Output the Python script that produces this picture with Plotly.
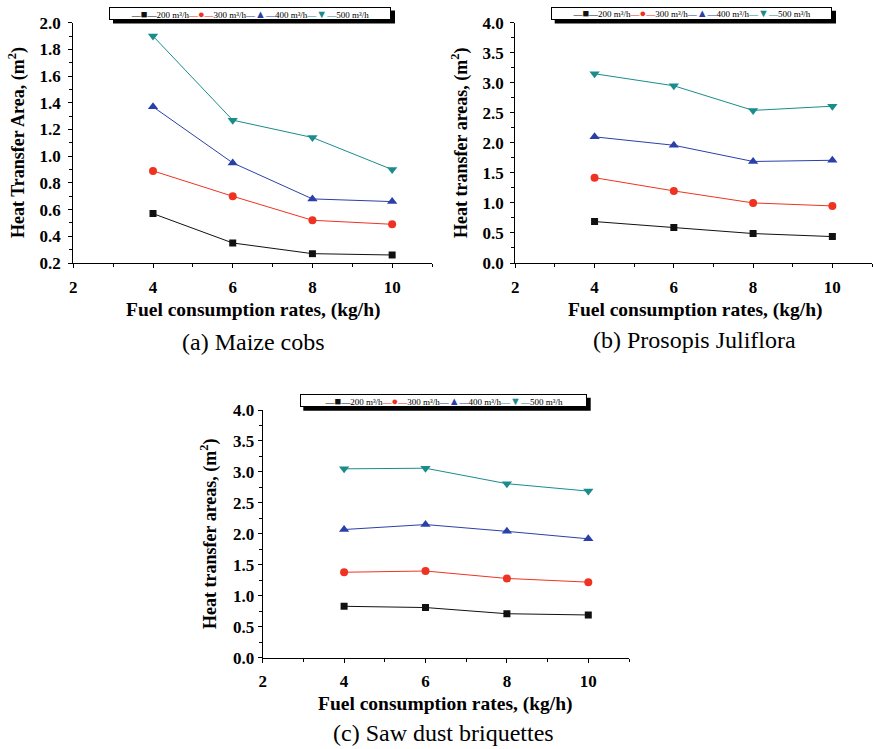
import plotly.graph_objects as go

W, H = 873, 749

fuel_rates = [4, 6, 8, 10]
series_names = ["200 m³/h", "300 m³/h", "400 m³/h", "500 m³/h"]

maize_200 = [0.57, 0.35, 0.27, 0.26]
maize_300 = [0.89, 0.70, 0.52, 0.49]
maize_400 = [1.37, 0.95, 0.68, 0.66]
maize_500 = [1.90, 1.27, 1.14, 0.90]

prosopis_200 = [0.69, 0.59, 0.49, 0.44]
prosopis_300 = [1.42, 1.20, 1.00, 0.95]
prosopis_400 = [2.10, 1.96, 1.69, 1.71]
prosopis_500 = [3.15, 2.95, 2.54, 2.61]

sawdust_200 = [0.83, 0.81, 0.71, 0.69]
sawdust_300 = [1.38, 1.40, 1.28, 1.22]
sawdust_400 = [2.07, 2.15, 2.04, 1.92]
sawdust_500 = [3.05, 3.06, 2.81, 2.69]

panel_titles = ["(a) Maize cobs", "(b) Prosopis Juliflora", "(c) Saw dust briquettes"]
y_titles = ["Heat Transfer Area, (m<sup>2</sup>)",
            "Heat transfer areas, (m<sup>2</sup>)",
            "Heat transfer areas, (m<sup>2</sup>)"]
x_title = "Fuel consumption rates, (kg/h)"

colors = ["#111111", "#ee3322", "#2b3fa8", "#1a8c8c"]
symbols = ["square", "circle", "triangle-up", "triangle-down"]
legend_glyphs = ["■", "●", "▲", "▼"]
msizes = [7, 8, 9, 9]

panels = [
    [maize_200, maize_300, maize_400, maize_500],
    [prosopis_200, prosopis_300, prosopis_400, prosopis_500],
    [sawdust_200, sawdust_300, sawdust_400, sawdust_500],
]

def px2x(p):
    return p / W

def px2y(p):
    return 1 - p / H

# pixel geometry of each plot area: (left, right, top, bottom)
geom = [(73.3, 432.0, 22.7, 263.0),
        (515.3, 872.0, 22.7, 263.0),
        (262.7, 629.0, 410.0, 657.7)]
yranges = [[0.2, 2.0], [0.0, 4.0], [0.0, 4.0]]
ydt = [0.2, 0.5, 0.5]
ystand = [4, 3, 0]

FONT = "Liberation Serif, Times New Roman, serif"
fig = go.Figure()

for i, data in enumerate(panels):
    ax = "" if i == 0 else str(i + 1)
    for j, vals in enumerate(data):
        fig.add_trace(go.Scatter(
            x=fuel_rates, y=vals, name=series_names[j], mode="lines+markers",
            line=dict(color=colors[j], width=1),
            marker=dict(symbol=symbols[j], size=msizes[j], color=colors[j]),
            xaxis="x" + ax, yaxis="y" + ax, showlegend=False,
        ))
    l, r, t, b = geom[i]
    axis_common = dict(showline=True, linecolor="black", linewidth=1.3,
                       ticks="outside", ticklen=4, tickwidth=1.2, tickcolor="black",
                       showgrid=False, zeroline=False,
                       tickfont=dict(family=FONT, size=17, color="black", weight="bold"))
    fig.update_layout(**{
        "xaxis" + ax: dict(domain=[px2x(l), px2x(r)], range=[2, 11],
                           anchor="y" + ax, tick0=2, dtick=2,
                           minor=dict(dtick=1, ticklen=3, tickcolor="black", ticks="outside"),
                           ticklabelstandoff=4, **axis_common),
        "yaxis" + ax: dict(domain=[px2y(b), px2y(t)], range=yranges[i],
                           anchor="x" + ax, tick0=0, dtick=ydt[i], tickformat=".1f",
                           minor=dict(dtick=ydt[i] / 2, ticklen=3, tickcolor="black", ticks="outside"),
                           ticklabelstandoff=ystand[i], **axis_common),
    })

# text legends (boxed, with drop shadow)
legend_text = "".join(
    f"<span style='color:{colors[j]}'>—<span style='font-size:11px'>{legend_glyphs[j]}</span>—</span>{series_names[j]}"
    for j in range(4))
# box geometry: (left, top, right, bottom) in px
leg_boxes = [(109, 7, 391, 20), (550.7, 7.3, 832, 20), (299.3, 394.3, 586.7, 407.3)]

annotations = []
shapes = []
for (bl, bt, br, bb) in leg_boxes:
    shapes.append(dict(type="rect", xref="paper", yref="paper",
                       x0=px2x(bl + 4), x1=px2x(br + 4),
                       y0=px2y(bb + 3.5), y1=px2y(bt + 3.5),
                       fillcolor="black", line=dict(width=0), layer="above"))
    annotations.append(dict(text=legend_text, x=px2x((bl + br) / 2), y=px2y((bt + bb) / 2),
                            xref="paper", yref="paper", showarrow=False,
                            xanchor="center", yanchor="middle", align="center",
                            width=br - bl - 2, height=bb - bt - 2, borderpad=0,
                            bordercolor="black", borderwidth=1, bgcolor="white",
                            font=dict(family=FONT, size=9, color="black")))

ytitle_pos = [(17, 143), (460, 143), (209, 534)]
xtitle_pos = [(253, 310), (695, 310), (446, 704)]
cap_pos = [(253, 342), (694, 340), (443, 733)]
for i in range(3):
    annotations.append(dict(text=y_titles[i], x=px2x(ytitle_pos[i][0]), y=px2y(ytitle_pos[i][1]),
                            xref="paper", yref="paper", showarrow=False, textangle=-90,
                            xanchor="center", yanchor="middle",
                            font=dict(family=FONT, size=18, color="black", weight="bold")))
    annotations.append(dict(text=x_title, x=px2x(xtitle_pos[i][0]), y=px2y(xtitle_pos[i][1]),
                            xref="paper", yref="paper", showarrow=False,
                            xanchor="center", yanchor="middle",
                            font=dict(family=FONT, size=19.5, color="black", weight="bold")))
    annotations.append(dict(text=panel_titles[i], x=px2x(cap_pos[i][0]), y=px2y(cap_pos[i][1]),
                            xref="paper", yref="paper", showarrow=False,
                            xanchor="center", yanchor="middle",
                            font=dict(family=FONT, size=24, color="black")))

fig.update_layout(width=W, height=H, margin=dict(l=0, r=0, t=0, b=0, autoexpand=False),
                  paper_bgcolor="white", plot_bgcolor="white",
                  showlegend=False, annotations=annotations, shapes=shapes)

fig.write_html("out.html", config={"displayModeBar": False},
               post_script="document.body.style.margin='0';document.body.style.overflow='hidden';")
